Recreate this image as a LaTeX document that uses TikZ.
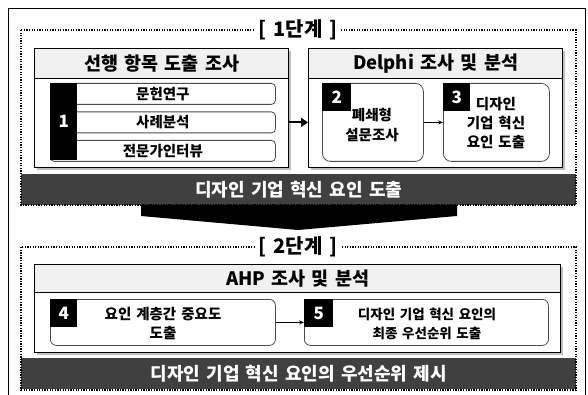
\documentclass[tikz,border=0pt]{standalone}
\usepackage{fontspec}
\setmainfont{Noto Sans CJK KR}[WordSpace=1.5]
\usetikzlibrary{shadows,arrows.meta}
\tikzset{
 outerline/.style={draw=black, line width=0.9pt},
 stagebox/.style={draw=black, line width=1.3pt, dash pattern=on 1.3pt off 1.3pt},
 stagetitle/.style={fill=white, font=\bfseries\fontsize{20}{22}\selectfont, inner xsep=4pt, inner ysep=0pt},
 panel/.style={draw=black, line width=1.4pt, fill=white, inner sep=0pt, anchor=north west,
   drop shadow={shadow xshift=2.5pt, shadow yshift=-2.5pt, fill=black!50, opacity=0.5}},
 panelhead/.style={draw=black, line width=1.4pt, fill=black!6, inner sep=0pt, anchor=north west,
   font=\bfseries\fontsize{18.5}{20}\selectfont},
 itembox/.style={draw=black!70, line width=0.8pt, rounded corners=4pt, fill=white, inner sep=0pt,
   anchor=north west, font=\bfseries\fontsize{14.5}{16}\selectfont},
 numbox/.style={fill=black, text=white, inner sep=0pt, anchor=north west,
   font=\bfseries\fontsize{17}{18}\selectfont},
 darkbar/.style={fill=black!75, text=white, inner sep=0pt, anchor=north west,
   font=\bfseries\fontsize{18}{20}\selectfont},
 itemtext/.style={font=\bfseries\fontsize{14.5}{19}\selectfont, align=center, inner sep=0pt},
 thinarrow/.style={draw=black, line width=0.8pt, -{Stealth[length=5pt,width=4pt]}},
 thickarrow/.style={draw=black, line width=2.2pt, -{Triangle[length=7pt,width=9pt]}},
}
\begin{document}
\begin{tikzpicture}[x=1pt,y=-1pt]
\useasboundingbox (0,0) rectangle (588,395);
\fill[white] (0,0) rectangle (588,395);
\draw[outerline] (8,8) rectangle (585,405);

% ---------- stage 1 ----------
\node[darkbar, minimum width=555pt, minimum height=31pt] (bar1) at (21,174) {디자인 기업 혁신 요인 도출};
\draw[stagebox] (21,30) rectangle (576,205);
\node[stagetitle] (t1) at (298,30) {[ 1단계 ]};

\node[panel, minimum width=254pt, minimum height=119pt] (pA) at (34,48) {};
\node[panelhead, minimum width=254pt, minimum height=30pt] (hA) at (34,48) {선행 항목 도출 조사};
\node[itembox, minimum width=225pt, minimum height=21pt] (i1) at (50,83) {문헌연구};
\node[itembox, minimum width=225pt, minimum height=21pt] (i2) at (50,111.5) {사례분석};
\node[itembox, minimum width=225pt, minimum height=21pt] (i3) at (50,140) {전문가인터뷰};
\node[numbox, minimum width=27pt, minimum height=77pt] (n1) at (50,83) {1};

\node[panel, minimum width=254pt, minimum height=119pt] (pB) at (308,48) {};
\node[panelhead, minimum width=254pt, minimum height=30pt] (hB) at (308,48) {Delphi 조사 및 분석};
\node[itembox, rounded corners=8pt, minimum width=101pt, minimum height=78pt] (b2) at (322,83) {};
\node[itembox, rounded corners=8pt, minimum width=106pt, minimum height=78pt] (b3) at (443,83) {};
\node[numbox, minimum width=29pt, minimum height=28pt] (n2) at (322,83) {2};
\node[numbox, minimum width=27pt, minimum height=28pt] (n3) at (443,83) {3};
\node[itemtext, font=\bfseries\fontsize{14.5}{20}\selectfont] (x2) at (372,125) {폐쇄형\\설문조사};
\node[itemtext] (x3) at (496,123.5) {디자인\\기업 혁신\\요인 도출};

\draw[thickarrow] (i2.east -| pA.east) -- (i2.east -| pB.west);
\draw[thinarrow] (b2.east) -- (b3.west);

% ---------- funnel ----------
\fill[black] (141,205) -- (457,205) -- (457,216) -- (298,230) -- (141,216) -- cycle;

% ---------- stage 2 ----------
\node[darkbar, minimum width=555pt, minimum height=31pt] (bar2) at (21,358) {디자인 기업 혁신 요인의 우선순위 제시};
\draw[stagebox] (21,247) rectangle (576,390);
\node[stagetitle] (t2) at (298,247) {[ 2단계 ]};

\node[panel, minimum width=526pt, minimum height=88pt] (pC) at (34,264) {};
\node[panelhead, minimum width=526pt, minimum height=28pt] (hC) at (34,264) {AHP 조사 및 분석};
\node[itembox, rounded corners=6pt, minimum width=225pt, minimum height=46pt] (b4) at (50,299) {};
\node[itembox, rounded corners=6pt, minimum width=244pt, minimum height=46pt] (b5) at (304,299) {};
\node[numbox, minimum width=27pt, minimum height=28pt] (n4) at (50,299) {4};
\node[numbox, minimum width=29pt, minimum height=28pt] (n5) at (304,299) {5};
\node[itemtext] (x4) at (163,323.5) {요인 계층간 중요도\\도출};
\node[itemtext, font=\bfseries\fontsize{13.5}{19}\selectfont] (x5) at (427,323.5) {디자인 기업 혁신 요인의\\최종 우선순위 도출};
\draw[thinarrow] (b4.east) -- (b5.west);
\end{tikzpicture}
\end{document}
